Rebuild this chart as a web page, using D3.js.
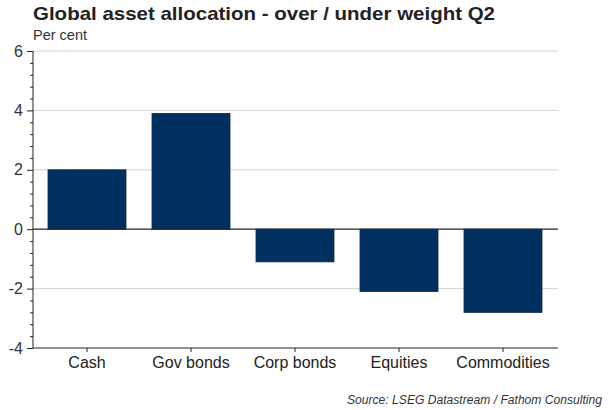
<!DOCTYPE html>
<html><head><meta charset="utf-8">
<script src="https://cdn.jsdelivr.net/npm/d3@7"></script>
<style>body{margin:0;background:#fff}svg{display:block;font-family:"Liberation Sans",Arial,sans-serif}</style>
</head><body>
<svg id="c" width="615" height="410"></svg>
<script>
const categories = ["Cash","Gov bonds","Corp bonds","Equities","Commodities"];
const values = [2.0, 3.9, -1.1, -2.1, -2.8];
const yTicks = [-4,-2,0,2,4,6];

(function(){
const svg = d3.select("#c");
const pL = 33, pR = 558, pT = 51, pB = 348;
const x = d3.scaleBand().domain(categories).range([35,555]).paddingInner(0.25).paddingOuter(0.125);
const y = d3.scaleLinear().domain([-4,6]).range([pB,pT]);
const isMajor = d=>{const r=Math.round(d*10)/10; return Number.isInteger(r)&&r%2===0;};

// gridlines
svg.append("g").selectAll("line").data(yTicks.filter(d=>d!==0 && d!==-4)).join("line")
  .attr("x1",pL).attr("x2",pR).attr("y1",d=>y(d)).attr("y2",d=>y(d))
  .attr("stroke","#d4d4d4").attr("stroke-width",1);

// bars
svg.append("g").selectAll("rect").data(values).join("rect")
  .attr("x",(d,i)=>x(categories[i])).attr("width",x.bandwidth())
  .attr("y",d=>y(Math.max(0,d))).attr("height",d=>Math.abs(y(d)-y(0)))
  .attr("fill","#00305f").attr("stroke","#0b2a4e").attr("stroke-width",0.8);

// zero line
svg.append("line").attr("x1",pL).attr("x2",pR).attr("y1",y(0)).attr("y2",y(0))
  .attr("stroke","#222").attr("stroke-width",1.2);

// y axis
const minor = d3.range(-4,6.001,0.4);
const yAxis = d3.axisLeft(y).tickValues(minor).tickSize(4)
  .tickFormat(d=>isMajor(d)? String(Math.round(d)) : "");
const gy = svg.append("g").attr("transform",`translate(${pL},0)`).call(yAxis);
gy.select(".domain").attr("stroke","#222").attr("d",`M0,${pT}V${pB}`);
gy.selectAll(".tick line").attr("stroke","#222").attr("x2",d=>isMajor(d)?-6:-3);
gy.selectAll(".tick text").attr("x",-10).attr("font-size",16).attr("fill","#333")
  .attr("font-family","Liberation Sans, Arial, sans-serif");

// x axis
const xAxis = d3.axisBottom(x).tickSize(4).tickSizeOuter(0);
const gx = svg.append("g").attr("transform",`translate(0,${pB})`).call(xAxis);
gx.select(".domain").attr("stroke","#222").attr("d",`M${pL},0H${pR}`);
gx.selectAll(".tick line").attr("stroke","#222");
gx.selectAll(".tick text").attr("y",9).attr("font-size",16).attr("fill","#222")
  .attr("font-family","Liberation Sans, Arial, sans-serif");

// texts
svg.append("text").attr("x",33).attr("y",20).attr("font-size",19).attr("font-weight","bold")
  .attr("fill","#222").attr("textLength",462).attr("lengthAdjust","spacingAndGlyphs")
  .text("Global asset allocation - over / under weight Q2");
svg.append("text").attr("x",33).attr("y",39.5).attr("font-size",14.5).attr("fill","#333").text("Per cent");
svg.append("text").attr("x",602).attr("y",404).attr("text-anchor","end").attr("font-size",12)
  .attr("font-style","italic").attr("fill","#333").attr("textLength",255).attr("lengthAdjust","spacingAndGlyphs")
  .text("Source: LSEG Datastream / Fathom Consulting");
})();
</script>
</body></html>
